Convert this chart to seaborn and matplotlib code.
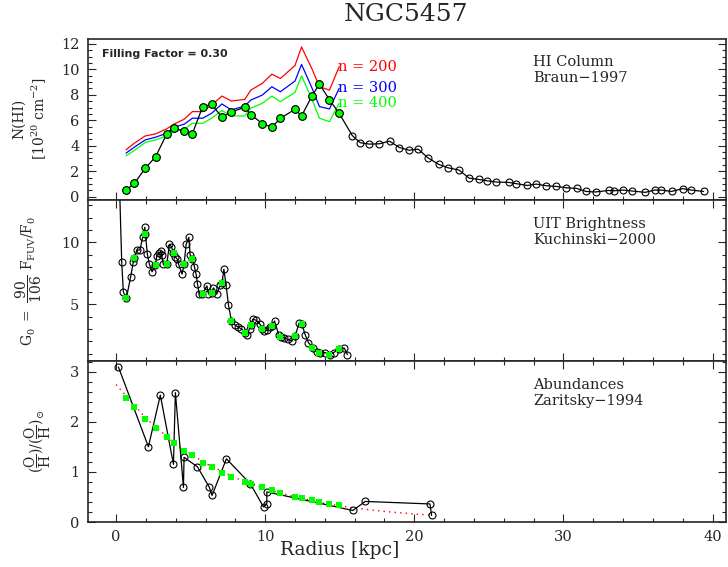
import matplotlib
matplotlib.use("Agg")
import matplotlib.pyplot as plt
from matplotlib.ticker import MultipleLocator
import seaborn as sns

# ---------------- data ----------------
# radii shared by the model points (green markers) in all panels [kpc]
x_model = [0.67, 1.23, 1.96, 2.65, 3.39, 3.87, 4.57, 5.12, 5.81, 6.41, 7.10, 7.74,
           8.63, 9.04, 9.81, 10.45, 11.02, 12.00, 12.44, 13.15, 13.64, 14.31, 14.96]

# HI column (Braun 1997), inner part at the model radii
hi_inner = [0.52, 1.04, 2.24, 3.13, 4.90, 5.40, 5.14, 4.95, 7.07, 7.25, 6.24, 6.65,
            7.02, 6.44, 5.74, 5.45, 6.16, 6.86, 6.34, 7.93, 8.84, 7.61, 6.55]
# HI column, outer part
hi_outer_r = [15.84, 16.37, 16.97, 17.64, 18.34, 19.00, 19.64, 20.27, 20.89, 21.65,
              22.26, 23.00, 23.67, 24.34, 24.87, 25.50, 26.33, 26.85, 27.58, 28.18,
              28.84, 29.48, 30.20, 30.89, 31.52, 32.15, 33.04, 33.42, 33.98, 34.58,
              35.48, 36.13, 36.56, 37.25, 37.99, 38.57, 39.40]
hi_outer = [4.80, 4.24, 4.13, 4.15, 4.36, 3.86, 3.65, 3.73, 3.07, 2.53,
            2.27, 2.09, 1.46, 1.35, 1.25, 1.15, 1.12, 1.02, 0.88, 0.99,
            0.86, 0.81, 0.70, 0.65, 0.41, 0.37, 0.49, 0.47, 0.52, 0.45,
            0.34, 0.52, 0.52, 0.41, 0.63, 0.52, 0.41]

# model N(HI) for densities n = 200, 300, 400
n200 = [3.68, 4.20, 4.77, 4.93, 5.32, 5.69, 6.08, 6.68, 6.68, 7.20, 7.90, 7.51,
        7.64, 8.37, 8.90, 9.62, 9.28, 10.30, 11.76, 10.00, 8.63, 8.37, 10.20]
n300 = [3.42, 3.89, 4.46, 4.67, 4.98, 5.45, 5.69, 6.16, 6.16, 6.55, 7.28, 6.81,
        7.12, 7.59, 7.98, 8.63, 8.24, 9.08, 10.38, 8.50, 7.07, 6.89, 8.50]
n400 = [3.22, 3.63, 4.26, 4.46, 4.77, 5.11, 5.29, 5.76, 5.76, 6.16, 6.76, 6.34,
        6.34, 6.95, 7.33, 7.90, 7.46, 8.19, 9.49, 7.60, 6.16, 5.89, 7.33]
model_labels = ["n = 200", "n = 300", "n = 400"]

# UIT brightness (Kuchinski 2000)
uit_r = [0.20, 0.38, 0.49, 0.69, 0.98, 1.16, 1.23, 1.39, 1.60, 1.79, 1.93, 1.97,
         2.10, 2.24, 2.42, 2.64, 2.73, 2.91, 3.00, 3.06, 3.17, 3.40, 3.58, 3.71,
         3.85, 3.96, 4.11, 4.20, 4.43, 4.56, 4.70, 4.88, 4.97, 5.12, 5.26, 5.37,
         5.46, 5.57, 5.79, 6.09, 6.20, 6.42, 6.53, 6.76, 6.98, 7.11, 7.23, 7.38,
         7.54, 7.74, 7.99, 8.19, 8.40, 8.66, 8.81, 8.95, 9.04, 9.17, 9.40, 9.62,
         9.82, 9.95, 10.15, 10.34, 10.45, 10.63, 10.90, 11.05, 11.28, 11.50, 11.79,
         12.01, 12.28, 12.46, 12.68, 12.90, 13.20, 13.46, 13.69, 14.03, 14.32,
         14.59, 14.97, 15.30, 15.52]
uit_g = [16.0, 8.43, 5.99, 5.46, 7.21, 8.43, 8.70, 9.38, 9.38, 10.43, 11.22, 10.67,
         9.05, 8.22, 7.62, 8.16, 8.91, 9.16, 9.29, 8.97, 8.22, 8.22, 9.84, 9.65,
         9.16, 8.83, 8.65, 8.22, 7.43, 8.22, 9.84, 10.41, 8.97, 8.67, 8.02, 7.41,
         6.67, 5.86, 5.81, 6.48, 5.85, 5.94, 6.32, 5.81, 6.54, 6.72, 7.83, 6.54,
         4.92, 3.64, 3.30, 3.15, 3.00, 2.70, 2.54, 3.03, 3.35, 3.78, 3.70, 3.43,
         3.03, 2.83, 2.89, 3.15, 3.24, 3.64, 2.54, 2.34, 2.26, 2.16, 2.02,
         2.43, 3.48, 3.37, 2.54, 1.89, 1.48, 1.13, 1.02, 1.08, 0.92,
         1.08, 1.40, 1.45, 0.92]
uit_model = [5.46, 8.70, 10.67, 8.16, 8.22, 9.16, 8.22, 8.67, 5.81, 5.94, 6.72, 3.64,
             2.70, 3.35, 3.03, 3.24, 2.34, 2.43, 3.37, 1.48, 1.02, 0.92, 1.40]

# Abundances (Zaritsky 1994)
ab_r = [0.16, 2.17, 2.97, 3.85, 3.98, 4.52, 4.56, 5.46, 6.26, 6.44, 7.40, 9.01,
        9.89, 10.11, 10.11, 15.88, 16.71, 21.05, 21.16]
ab_v = [3.09, 1.50, 2.53, 1.15, 2.58, 0.69, 1.29, 1.10, 0.69, 0.53, 1.26, 0.76,
        0.30, 0.36, 0.60, 0.23, 0.41, 0.36, 0.13]
ab_model = [2.47, 2.29, 2.05, 1.87, 1.69, 1.57, 1.41, 1.33, 1.18, 1.10, 0.98, 0.90,
            0.80, 0.75, 0.69, 0.63, 0.57, 0.49, 0.47, 0.43, 0.39, 0.36, 0.33]
# gradient fit (red dotted)
fit_r = [0, 2, 4, 6, 8, 10, 12, 14, 16, 18, 20, 21]
fit_v = [2.74, 2.07, 1.55, 1.17, 0.88, 0.66, 0.50, 0.37, 0.28, 0.21, 0.16, 0.14]

# ---------------- style ----------------
sns.set_style("ticks")
plt.rcParams["font.family"] = ["DejaVu Serif"]
plt.rcParams["mathtext.fontset"] = "dejavuserif"

RED, BLUE, GREEN = "#ff0000", "#0000ff", "#00ff00"

fig = plt.figure(figsize=(7.28, 5.67), dpi=100)
L, W = 87.7 / 728, 638.3 / 728
ax1 = fig.add_axes([L, 1 - 200 / 567, W, 161.5 / 567])
ax2 = fig.add_axes([L, 1 - 361 / 567, W, 161 / 567], sharex=ax1)
ax3 = fig.add_axes([L, 1 - 522 / 567, W, 161 / 567], sharex=ax1)

line_kw = dict(color="black", lw=0.9, sort=False, estimator=None, marker="o",
               markersize=5, markerfacecolor="none", markeredgecolor="black",
               markeredgewidth=0.8)

# ---- top panel: HI column ----
hi_r = x_model + hi_outer_r
hi_n = hi_inner + hi_outer
sns.lineplot(x=hi_r, y=hi_n, ax=ax1, zorder=3, **line_kw)
for vals, col, lab in zip([n200, n300, n400], [RED, BLUE, GREEN], model_labels):
    sns.lineplot(x=x_model, y=vals, ax=ax1, color=col, lw=0.9, sort=False,
                 estimator=None, zorder=2)
    ax1.text(x_model[-1] - 0.1, vals[-1], lab, color=col, fontsize=10.5,
             ha="left", va="center")
sns.scatterplot(x=x_model, y=hi_inner, ax=ax1, color=GREEN, edgecolor="black",
                s=30, linewidth=0.8, zorder=5)
ax1.text(0.022, 0.905, "Filling Factor = 0.30", transform=ax1.transAxes,
         fontsize=8, fontweight="bold", family="DejaVu Sans", va="center")
ax1.text(0.698, 0.895, "HI Column\nBraun\u22121997", transform=ax1.transAxes,
         fontsize=10.5, va="top", linespacing=1.15)
ax1.set_ylim(-0.26, 12.42)
ax1.yaxis.set_major_locator(MultipleLocator(2))
ax1.yaxis.set_minor_locator(MultipleLocator(0.5))
ax1.set_ylabel("N(HI)\n[10$^{20}$ cm$^{-2}$]", fontsize=10, linespacing=1.3)
ax1.yaxis.set_label_coords(-0.06, 0.5)

# ---- middle panel: UIT brightness ----
sns.lineplot(x=uit_r, y=uit_g, ax=ax2, zorder=3, **line_kw)
sns.scatterplot(x=x_model, y=uit_model, ax=ax2, color=GREEN, marker="s",
                s=22, linewidth=0, zorder=5)
ax2.text(0.698, 0.895, "UIT Brightness\nKuchinski\u22122000", transform=ax2.transAxes,
         fontsize=10.5, va="top", linespacing=1.15)
ax2.set_ylim(0.4, 13.43)
ax2.yaxis.set_major_locator(MultipleLocator(5))
ax2.yaxis.set_minor_locator(MultipleLocator(1))
ax2.set_ylabel(r"$\mathrm{G_0\ =\ \dfrac{90}{106}\ F_{FUV}/F_0}$", fontsize=10)
ax2.yaxis.set_label_coords(-0.068, 0.5)

# ---- bottom panel: abundances ----
sns.lineplot(x=fit_r, y=fit_v, ax=ax3, color=RED, lw=1.0, linestyle=(0, (1, 3)),
             sort=False, estimator=None, zorder=2)
sns.lineplot(x=ab_r, y=ab_v, ax=ax3, zorder=3, **line_kw)
sns.scatterplot(x=x_model, y=ab_model, ax=ax3, color=GREEN, marker="s",
                s=22, linewidth=0, zorder=5)
ax3.text(0.698, 0.895, "Abundances\nZaritsky\u22121994", transform=ax3.transAxes,
         fontsize=10.5, va="top", linespacing=1.15)
ax3.set_ylim(0, 3.21)
ax3.yaxis.set_major_locator(MultipleLocator(1))
ax3.yaxis.set_minor_locator(MultipleLocator(0.2))
ax3.set_ylabel(r"$(\dfrac{\mathrm{O}}{\mathrm{H}})/(\dfrac{\mathrm{O}}{\mathrm{H}})_{\odot}$",
               fontsize=10)
ax3.yaxis.set_label_coords(-0.055, 0.5)

# ---- common axes styling ----
ax3.set_xlim(-1.9, 40.9)
ax3.xaxis.set_major_locator(MultipleLocator(10))
ax3.xaxis.set_minor_locator(MultipleLocator(2))
for ax in (ax1, ax2, ax3):
    ax.set_xlabel("")
    ax.tick_params(which="both", direction="in", top=True, right=True,
                   width=0.8, labelsize=10.5, pad=6)
    ax.tick_params(which="major", length=6)
    ax.tick_params(which="minor", length=3)
    for sp in ax.spines.values():
        sp.set_visible(True)
        sp.set_linewidth(1.2)
ax1.tick_params(which="both", top=False)
ax1.tick_params(labelbottom=False)
ax2.tick_params(labelbottom=False)

fig.text(0.558, 0.974, "NGC5457", ha="center", va="center", fontsize=18)
fig.text(0.467, 0.030, "Radius [kpc]", ha="center", va="center", fontsize=13.5)

fig.savefig("out.png", dpi=100)
